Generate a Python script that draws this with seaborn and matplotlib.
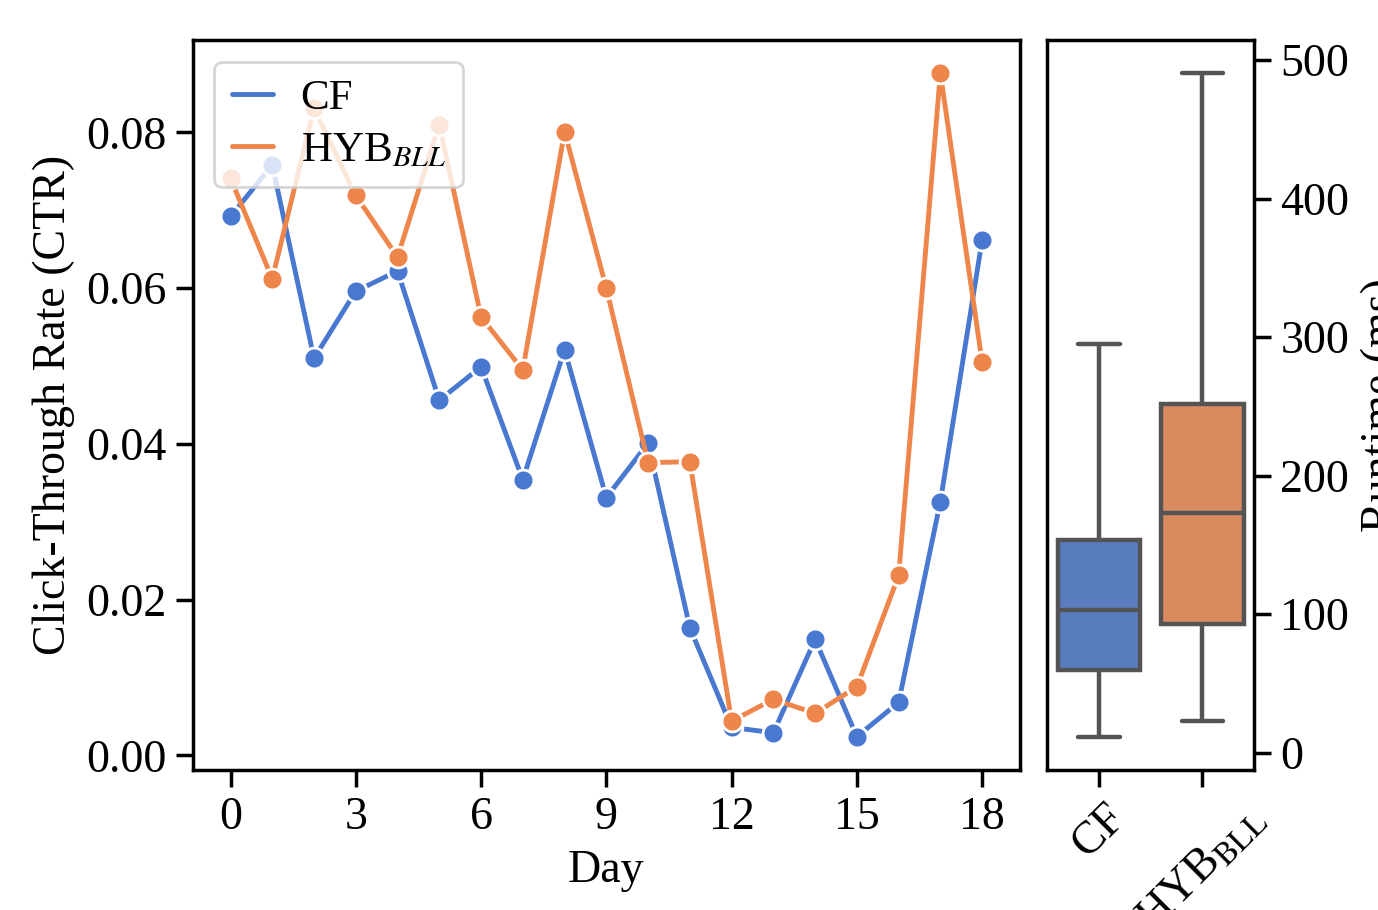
import numpy as np
import pandas as pd
import matplotlib
matplotlib.use("Agg")
import matplotlib.pyplot as plt
import seaborn as sns

days = list(range(19))
cf_ctr = [0.0692, 0.0758, 0.0510, 0.0596, 0.0622, 0.0456, 0.0499, 0.0354, 0.0521, 0.0331,
          0.0401, 0.0164, 0.0036, 0.0029, 0.0149, 0.0024, 0.0068, 0.0326, 0.0662]
hyb_ctr = [0.0741, 0.0612, 0.0831, 0.0719, 0.0640, 0.0810, 0.0563, 0.0495, 0.0801, 0.0600,
           0.0376, 0.0377, 0.0044, 0.0072, 0.0054, 0.0088, 0.0231, 0.0876, 0.0505]
series_names = ["CF", "HYB$_{BLL}$"]
box_labels = ["CF", r"HYB$_{\rm BLL}$"]
# five-number summaries (min, Q1, median, Q3, max) of runtime in ms
cf_runtime = [11.5, 60, 103, 153.7, 295]
hyb_runtime = [23, 93, 173, 251.8, 490.6]
xtick_vals = [0, 3, 6, 9, 12, 15, 18]

sns.set_theme(style="ticks", palette="muted")
plt.rcParams["font.family"] = ["Liberation Serif", "DejaVu Serif"]
plt.rcParams["mathtext.fontset"] = "stix"
plt.rcParams["font.size"] = 16
for k in ["text.color", "axes.labelcolor", "xtick.color", "ytick.color", "axes.edgecolor"]:
    plt.rcParams[k] = "black"

line_df = pd.DataFrame({
    "Day": days * 2,
    "CTR": cf_ctr + hyb_ctr,
    "Method": [series_names[0]] * len(days) + [series_names[1]] * len(days),
})
box_df = pd.DataFrame({
    "Method": [box_labels[0]] * len(cf_runtime) + [box_labels[1]] * len(hyb_runtime),
    "Runtime": cf_runtime + hyb_runtime,
})

fig = plt.figure(figsize=(6.89, 4.55), dpi=200)
ax1 = fig.add_axes([0.140, 0.154, 0.600, 0.802])
ax2 = fig.add_axes([0.760, 0.154, 0.150, 0.802])

sns.lineplot(data=line_df, x="Day", y="CTR", hue="Method", marker="o",
             markersize=7.5, linewidth=1.75, ax=ax1, markeredgecolor="white",
             markeredgewidth=1.0)
ax1.set_xticks(xtick_vals)
ax1.set_xlabel("Day", fontsize=16.5)
ax1.set_ylabel("Click-Through Rate (CTR)", fontsize=16.5)
ax1.tick_params(labelsize=16.5)
leg = ax1.legend(loc="upper left", fontsize=15.5, framealpha=0.8, title=None,
                 handlelength=0.95, handletextpad=0.65, labelspacing=0.3)
for h in leg.legend_handles:
    h.set_marker("")
    h.set_linewidth(1.75)

sns.boxplot(data=box_df, x="Method", y="Runtime", hue="Method", whis=(0, 100),
            linewidth=1.6, ax=ax2, legend=False)
ax2.yaxis.tick_right()
ax2.yaxis.set_label_position("right")
ax2.set_ylabel("Runtime (ms)", fontsize=16.5)
ax2.set_xlabel("")
ax2.tick_params(labelsize=16.5)
ax2.set_yticks([0, 100, 200, 300, 400, 500])
for lab in ax2.get_xticklabels():
    lab.set_rotation(45)

fig.savefig("out.png", dpi=200)
